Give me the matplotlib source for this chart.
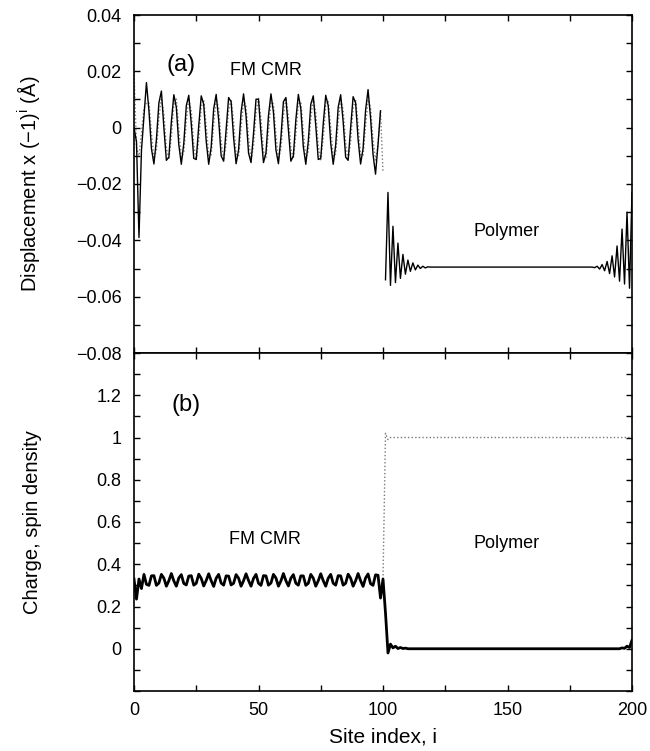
import matplotlib
matplotlib.use("Agg")
import matplotlib.pyplot as plt
from matplotlib.ticker import FixedLocator, MultipleLocator

plt.rcParams['font.family'] = ['Liberation Sans', 'DejaVu Sans']
plt.rcParams['mathtext.fontset'] = 'custom'
plt.rcParams['mathtext.rm'] = 'Liberation Sans'
plt.rcParams['mathtext.it'] = 'Liberation Sans:italic'

# ---- (a) lattice displacement x (-1)^i, FM CMR block (sites 0..99) ----
disp_cmr_solid = [
    0.0000, -0.0050, -0.0390, -0.0080, 0.0040, 0.0160, 0.0060, -0.0074, -0.0129, -0.0042,
    0.0088, 0.0130, 0.0000, -0.0116, -0.0105, 0.0021, 0.0117, 0.0072, -0.0061, -0.0130,
    -0.0055, 0.0078, 0.0115, 0.0014, -0.0109, -0.0113, 0.0007, 0.0113, 0.0083, -0.0048,
    -0.0130, -0.0068, 0.0067, 0.0118, 0.0028, -0.0100, -0.0119, -0.0007, 0.0107, 0.0092,
    -0.0035, -0.0128, -0.0079, 0.0055, 0.0120, 0.0042, -0.0090, -0.0124, -0.0021, 0.0101,
    0.0101, -0.0021, -0.0124, -0.0090, 0.0042, 0.0120, 0.0055, -0.0079, -0.0128, -0.0035,
    0.0092, 0.0107, -0.0007, -0.0119, -0.0100, 0.0028, 0.0118, 0.0067, -0.0068, -0.0130,
    -0.0048, 0.0083, 0.0113, 0.0007, -0.0113, -0.0109, 0.0014, 0.0115, 0.0078, -0.0055,
    -0.0130, -0.0061, 0.0072, 0.0117, 0.0021, -0.0105, -0.0116, 0.0000, 0.0110, 0.0088,
    -0.0042, -0.0129, -0.0074, 0.0061, 0.0135, 0.0035, -0.0095, -0.0165, -0.0060, 0.0060,
]
disp_cmr_dotted = [
    0.0200, -0.0070, -0.0100, -0.0020, 0.0070, 0.0088, 0.0088, -0.0019, -0.0110, -0.0080,
    0.0036, 0.0105, 0.0047, -0.0070, -0.0113, -0.0031, 0.0081, 0.0105, -0.0007, -0.0105,
    -0.0089, 0.0024, 0.0103, 0.0058, -0.0060, -0.0115, -0.0043, 0.0072, 0.0099, 0.0006,
    -0.0100, -0.0096, 0.0012, 0.0101, 0.0068, -0.0049, -0.0115, -0.0055, 0.0063, 0.0102,
    0.0018, -0.0093, -0.0102, 0.0000, 0.0096, 0.0077, -0.0037, -0.0114, -0.0065, 0.0053,
    0.0104, 0.0030, -0.0084, -0.0108, -0.0013, 0.0091, 0.0084, -0.0025, -0.0111, -0.0075,
    0.0042, 0.0105, 0.0042, -0.0075, -0.0111, -0.0025, 0.0084, 0.0091, -0.0013, -0.0108,
    -0.0084, 0.0030, 0.0104, 0.0053, -0.0065, -0.0114, -0.0037, 0.0077, 0.0096, 0.0000,
    -0.0102, -0.0093, 0.0018, 0.0102, 0.0063, -0.0055, -0.0115, -0.0049, 0.0068, 0.0101,
    0.0012, -0.0096, -0.0100, 0.0006, 0.0099, 0.0072, -0.0043, -0.0115, -0.0060, 0.0058,
    -0.0160,
]

# ---- (a) polymer block (sites 101..200) ----
disp_poly_left = [
    -0.0540, -0.0230, -0.0560, -0.0350, -0.0550, -0.0410, -0.0535, -0.0450, -0.0520,
    -0.0470, -0.0510, -0.0480, -0.0505, -0.0488, -0.0500, -0.0492, -0.0498, -0.0494,
]                                   # sites 101..118
disp_poly_plateau = -0.0495         # sites 119..184
disp_poly_right = [
    -0.0497, -0.0492, -0.0502, -0.0486, -0.0508, -0.0475, -0.0518, -0.0455,
    -0.0530, -0.0420, -0.0545, -0.0360, -0.0555, -0.0300, -0.0570, -0.0230,
]                                   # sites 185..200

# ---- (b) charge density (solid) and spin density (dotted) ----
charge_cmr = [
    0.330, 0.235, 0.330, 0.285, 0.352, 0.305, 0.300, 0.345, 0.346, 0.300,
    0.311, 0.352, 0.334, 0.296, 0.322, 0.356, 0.321, 0.296, 0.335, 0.351,
    0.309, 0.302, 0.344, 0.346, 0.301, 0.310, 0.353, 0.333, 0.297, 0.323,
    0.355, 0.322, 0.295, 0.334, 0.352, 0.311, 0.301, 0.345, 0.344, 0.302,
    0.310, 0.351, 0.334, 0.296, 0.322, 0.355, 0.323, 0.296, 0.333, 0.352,
    0.310, 0.300, 0.346, 0.345, 0.301, 0.311, 0.352, 0.335, 0.296, 0.321,
    0.356, 0.322, 0.297, 0.334, 0.351, 0.310, 0.301, 0.345, 0.345, 0.300,
    0.310, 0.352, 0.334, 0.296, 0.322, 0.355, 0.322, 0.296, 0.334, 0.352,
    0.310, 0.301, 0.346, 0.345, 0.301, 0.310, 0.353, 0.334, 0.296, 0.322,
    0.356, 0.322, 0.295, 0.335, 0.354, 0.308, 0.300, 0.350, 0.348, 0.240,
]                                   # sites 0..99
charge_poly_left = [
    0.330, 0.170, -0.020, 0.022, 0.004, 0.012, 0.001, 0.006, 0.001, 0.003, 0.000,
]                                   # sites 100..110
charge_poly_plateau = 0.0           # sites 111..195
charge_poly_right = [0.004, 0.002, 0.012, 0.006, 0.040]   # sites 196..200

spin_poly = [0.330, 1.020, 0.990]   # sites 100..102
spin_poly_plateau = 1.0             # sites 103..200

x_ticks = [0, 50, 100, 150, 200]
x_ticklabels = ["0", "50", "100", "150", "200"]
a_ticks = [0.04, 0.02, 0.0, -0.02, -0.04, -0.06, -0.08]
a_ticklabels = ["0.04", "0.02", "0", "\u22120.02", "\u22120.04", "\u22120.06", "\u22120.08"]
b_ticks = [1.2, 1.0, 0.8, 0.6, 0.4, 0.2, 0.0]
b_ticklabels = ["1.2", "1", "0.8", "0.6", "0.4", "0.2", "0"]

# assemble site-indexed series
sites_cmr = list(range(0, 100))
sites_cmr_dot = list(range(0, 101))
disp_poly = disp_poly_left + [disp_poly_plateau] * (185 - 119) + disp_poly_right
sites_poly = list(range(101, 201))
charge_all = charge_cmr + charge_poly_left + [charge_poly_plateau] * (196 - 111) + charge_poly_right
sites_all = list(range(0, 201))
spin_all = spin_poly + [spin_poly_plateau] * (201 - 103)
sites_spin = list(range(100, 201))

fig = plt.figure(figsize=(6.5, 7.51), dpi=100)
W, H = 650, 751
left, right = 134, 632
ax_a = fig.add_axes([left / W, (H - 353) / H, (right - left) / W, 338 / H])
ax_b = fig.add_axes([left / W, (H - 691) / H, (right - left) / W, 338 / H])

dot_style = dict(color="#7a7a7a", lw=1.0, linestyle=(0, (1, 1.6)))

ax_a.plot(sites_cmr_dot, disp_cmr_dotted, **dot_style)
ax_a.plot(sites_cmr, disp_cmr_solid, color="black", lw=1.0)
ax_a.plot(sites_poly, disp_poly, color="black", lw=1.0)

ax_b.plot(sites_spin, spin_all, **dot_style)
ax_b.plot(sites_all, charge_all, color="black", lw=2.0)

tick_fs = 13
for ax in (ax_a, ax_b):
    ax.set_xlim(0, 200)
    ax.xaxis.set_major_locator(FixedLocator(x_ticks))
    ax.xaxis.set_minor_locator(MultipleLocator(25))
    ax.tick_params(which="both", direction="in", top=True, right=True,
                   length=4, width=1.0, labelsize=tick_fs)
    ax.tick_params(axis="y", pad=9)
    ax.tick_params(axis="x", pad=8)
    for s in ax.spines.values():
        s.set_linewidth(1.2)

ax_a.set_ylim(-0.08, 0.04)
ax_a.yaxis.set_major_locator(FixedLocator(a_ticks))
ax_a.set_yticklabels(a_ticklabels)
ax_a.yaxis.set_minor_locator(MultipleLocator(0.01))
ax_a.tick_params(axis="x", labelbottom=False)

ax_b.set_ylim(-0.2, 1.4)
ax_b.yaxis.set_major_locator(FixedLocator(b_ticks))
ax_b.set_yticklabels(b_ticklabels)
ax_b.yaxis.set_minor_locator(MultipleLocator(0.1))
ax_b.set_xticklabels(x_ticklabels)

ax_a.set_ylabel("Displacement x (\u22121)$^{\\mathregular{i}}$ (\u00c5)", fontsize=14.5)
ax_b.set_ylabel("Charge, spin density", fontsize=14.5)
ax_b.set_xlabel("Site index, i", fontsize=15)
ax_a.yaxis.set_label_coords(-0.184, 0.5)
ax_b.yaxis.set_label_coords(-0.184, 0.5)
ax_b.xaxis.labelpad = 6

ax_a.text(19, 0.0222, "(a)", fontsize=17, ha="center", va="center")
ax_a.text(53, 0.0203, "FM CMR", fontsize=13, ha="center", va="center")
ax_a.text(149.5, -0.0368, "Polymer", fontsize=13, ha="center", va="center")
ax_b.text(21, 1.156, "(b)", fontsize=17, ha="center", va="center")
ax_b.text(52.5, 0.517, "FM CMR", fontsize=13, ha="center", va="center")
ax_b.text(149.5, 0.50, "Polymer", fontsize=13, ha="center", va="center")

fig.savefig("out.png", dpi=100)
